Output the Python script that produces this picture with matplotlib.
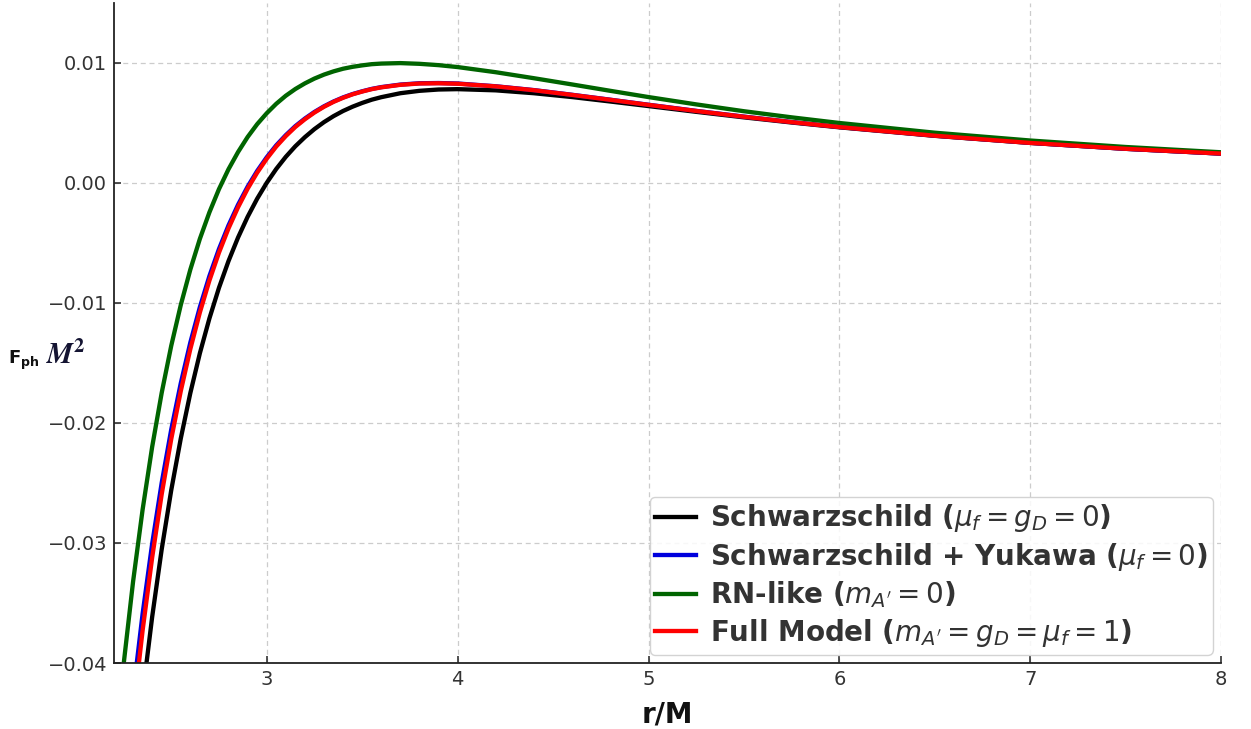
import matplotlib
matplotlib.use("Agg")
import matplotlib.pyplot as plt

# Radial coordinate r/M
r = [2.20, 2.25, 2.30, 2.35, 2.40, 2.45, 2.50, 2.55, 2.60, 2.65,
     2.70, 2.75, 2.80, 2.85, 2.90, 2.95, 3.00, 3.05, 3.10, 3.15,
     3.20, 3.25, 3.30, 3.35, 3.40, 3.45, 3.50, 3.55, 3.60, 3.70,
     3.80, 3.90, 4.00, 4.20, 4.40, 4.60, 4.80, 5.00, 5.25, 5.50,
     5.75, 6.00, 6.50, 7.00, 7.50, 8.00]

# Photon force F_ph M^2 for each model
schwarzschild = [-0.06830, -0.05853, -0.05003, -0.04263, -0.03617, -0.03053, -0.02560, -0.02129, -0.01751, -0.01419,
                 -0.01129, -0.00874, -0.00651, -0.00455, -0.00283, -0.00132, 0.00000, 0.00116, 0.00217, 0.00305,
                 0.00381, 0.00448, 0.00506, 0.00556, 0.00599, 0.00635, 0.00666, 0.00693, 0.00714, 0.00747,
                 0.00767, 0.00778, 0.00781, 0.00771, 0.00747, 0.00715, 0.00678, 0.00640, 0.00592, 0.00546,
                 0.00503, 0.00463, 0.00392, 0.00333, 0.00284, 0.00244]

schw_yukawa = [-0.05916, -0.05030, -0.04260, -0.03590, -0.03007, -0.02499, -0.02055, -0.01669, -0.01330, -0.01035,
               -0.00776, -0.00551, -0.00354, -0.00182, -0.00032, 0.00099, 0.00213, 0.00313, 0.00398, 0.00473,
               0.00536, 0.00591, 0.00638, 0.00678, 0.00712, 0.00740, 0.00763, 0.00783, 0.00798, 0.00819,
               0.00830, 0.00832, 0.00828, 0.00805, 0.00773, 0.00734, 0.00693, 0.00651, 0.00600, 0.00552,
               0.00507, 0.00466, 0.00394, 0.00334, 0.00284, 0.00244]

rn_like = [-0.04824, -0.04019, -0.03323, -0.02722, -0.02200, -0.01749, -0.01357, -0.01017, -0.00722, -0.00466,
           -0.00245, -0.00052, 0.00114, 0.00257, 0.00382, 0.00489, 0.00580, 0.00659, 0.00726, 0.00782,
           0.00829, 0.00869, 0.00902, 0.00929, 0.00951, 0.00967, 0.00979, 0.00989, 0.00994, 0.00998,
           0.00992, 0.00981, 0.00965, 0.00922, 0.00872, 0.00820, 0.00767, 0.00715, 0.00654, 0.00597,
           0.00546, 0.00499, 0.00418, 0.00353, 0.00299, 0.00255]

full_model = [-0.06162, -0.05233, -0.04428, -0.03729, -0.03122, -0.02594, -0.02134, -0.01734, -0.01384, -0.01079,
              -0.00813, -0.00581, -0.00379, -0.00203, -0.00049, 0.00085, 0.00201, 0.00303, 0.00390, 0.00466,
              0.00530, 0.00586, 0.00634, 0.00675, 0.00709, 0.00738, 0.00761, 0.00781, 0.00796, 0.00817,
              0.00828, 0.00830, 0.00826, 0.00804, 0.00772, 0.00733, 0.00692, 0.00650, 0.00599, 0.00551,
              0.00506, 0.00465, 0.00393, 0.00333, 0.00284, 0.00244]

labels = [
    r"Schwarzschild ($\mu_f = g_D = 0$)",
    r"Schwarzschild + Yukawa ($\mu_f = 0$)",
    r"RN-like ($m_{A'} = 0$)",
    r"Full Model ($m_{A'} = g_D = \mu_f = 1$)",
]
colors = ["black", "#0000dd", "#006400", "#ff0000"]
series = [schwarzschild, schw_yukawa, rn_like, full_model]

x_ticks = [3, 4, 5, 6, 7, 8]
y_ticks = [-0.04, -0.03, -0.02, -0.01, 0.00, 0.01]

fig = plt.figure(figsize=(12.51, 7.29), dpi=100)
ax = fig.add_axes([0.0911, 0.0905, 0.8851, 0.9056])

for ys, c, lab in zip(series, colors, labels):
    ax.plot(r, ys, color=c, lw=3.1, label=lab, solid_joinstyle="round")

ax.set_xlim(2.2, 8.0)
ax.set_ylim(-0.04, 0.015)
ax.set_xticks(x_ticks)
ax.set_yticks(y_ticks)
ax.set_yticklabels([f"{v:.2f}".replace("-", "\u2212") for v in y_ticks])

ax.grid(True, color="#cccccc", linestyle=(0, (4, 3)), linewidth=0.9)
ax.set_axisbelow(True)
for side in ("top", "right"):
    ax.spines[side].set_visible(False)
for side in ("left", "bottom"):
    ax.spines[side].set_linewidth(1.3)
    ax.spines[side].set_color("#222222")

ax.tick_params(direction="in", length=5, width=1.1, color="#222222",
               labelsize=14, labelcolor="#333333", pad=5)

ax.set_xlabel("r/M", fontsize=20, fontweight="bold", color="#111111", labelpad=8)

# y-axis label drawn in two pieces: sans-serif F_ph and a serif bold-italic M^2
fig.text(0.0065, 0.5007, r"F$_{\mathbf{ph}}$", fontsize=13, fontweight="bold",
         color="#111111", ha="left", va="baseline")
fig.text(0.037, 0.5007, r"$\mathbfit{M}^{\mathbf{2}}$", fontsize=21,
         math_fontfamily="stix", color="#141432", ha="left", va="baseline")

leg = ax.legend(loc="lower right", prop={"weight": "bold", "size": 20},
                handlelength=1.45, handletextpad=0.5, borderpad=0.2,
                borderaxespad=0.3, labelspacing=0.24, framealpha=0.85,
                edgecolor="#cccccc", fancybox=True)
for t in leg.get_texts():
    t.set_color("#333333")

fig.savefig("out.png", dpi=100)
